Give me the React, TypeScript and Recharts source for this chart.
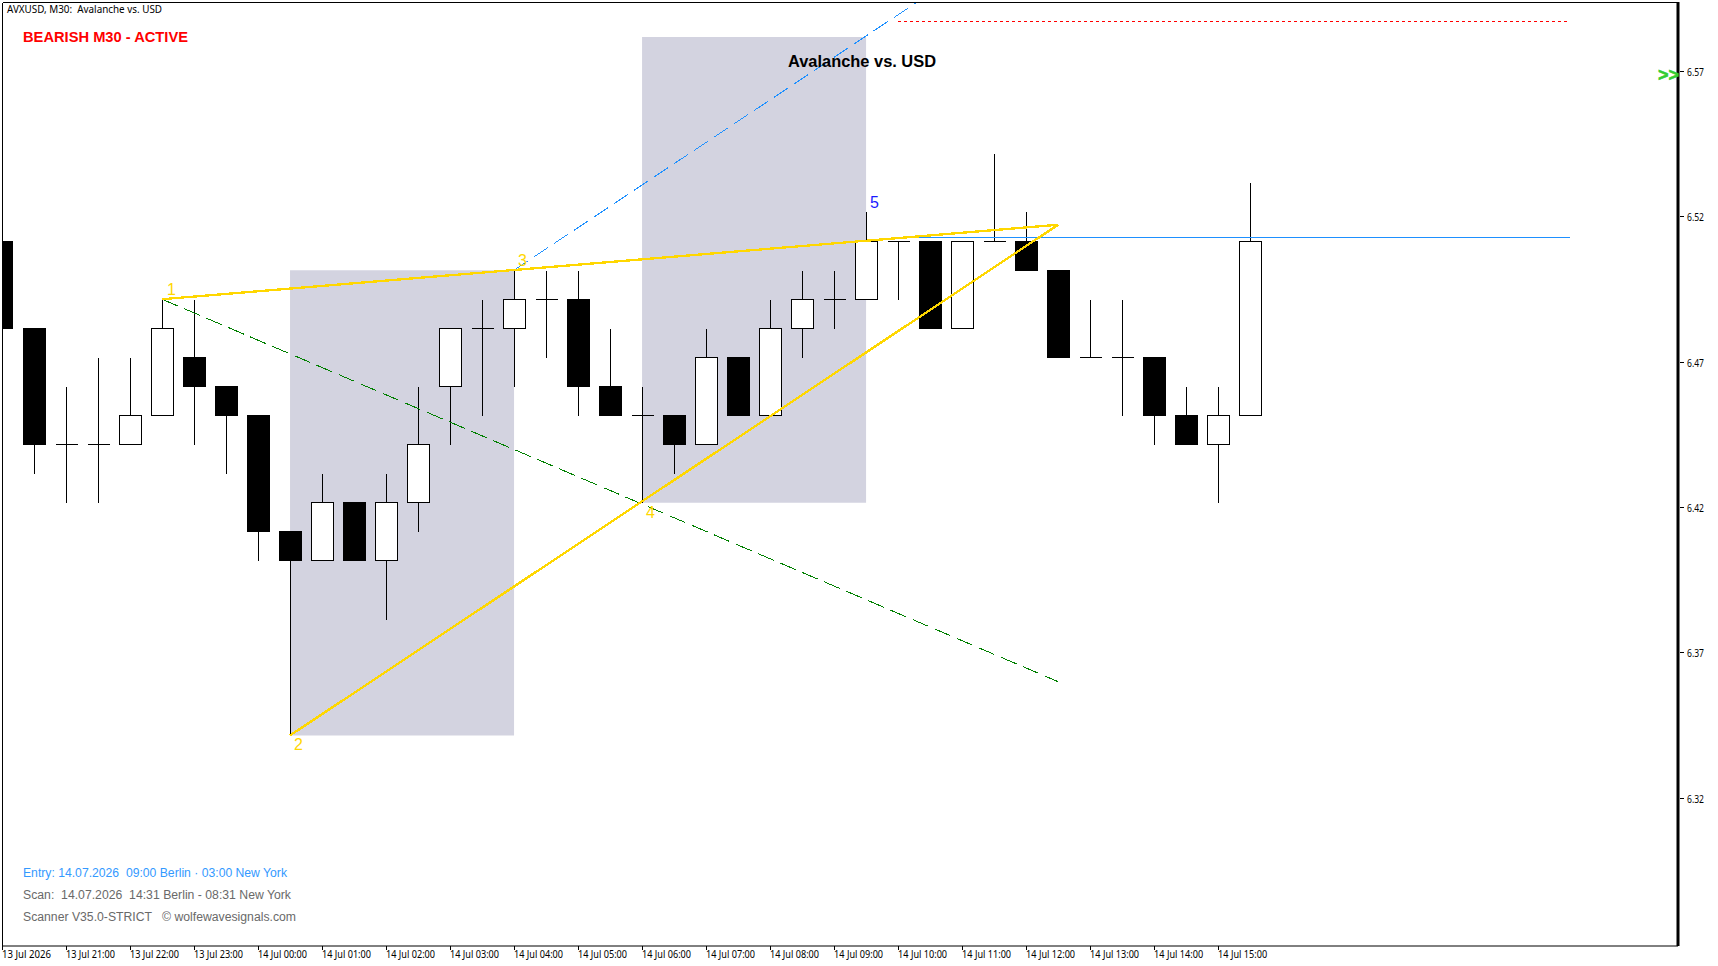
import React from 'react';
import { ComposedChart, Bar, XAxis, YAxis, ReferenceArea, ReferenceLine, ReferenceDot } from 'recharts';

const opens = [6.51,6.48,6.44,6.44,6.44,6.45,6.47,6.46,6.45,6.41,6.40,6.42,6.40,6.42,6.46,6.48,6.48,6.49,6.49,6.46,6.45,6.45,6.44,6.47,6.45,6.48,6.49,6.49,6.51,6.51,6.48,6.51,6.51,6.50,6.47,6.47,6.47,6.45,6.44,6.45];
const closes = [6.48,6.44,6.44,6.44,6.45,6.48,6.46,6.45,6.41,6.40,6.42,6.40,6.42,6.44,6.48,6.48,6.49,6.49,6.46,6.45,6.45,6.44,6.47,6.45,6.48,6.49,6.49,6.51,6.51,6.48,6.51,6.51,6.50,6.47,6.47,6.47,6.45,6.44,6.45,6.51];
const highs = [6.51,6.48,6.46,6.47,6.47,6.49,6.49,6.46,6.45,6.41,6.43,6.42,6.43,6.46,6.48,6.49,6.50,6.50,6.50,6.48,6.46,6.45,6.48,6.47,6.49,6.50,6.50,6.52,6.51,6.51,6.51,6.54,6.52,6.50,6.49,6.49,6.47,6.46,6.46,6.53];
const lows = [6.48,6.43,6.42,6.42,6.44,6.45,6.44,6.43,6.40,6.34,6.40,6.40,6.38,6.41,6.44,6.45,6.46,6.47,6.45,6.45,6.42,6.43,6.44,6.45,6.45,6.47,6.48,6.49,6.49,6.48,6.48,6.51,6.50,6.47,6.47,6.45,6.44,6.44,6.42,6.45];
const xTickIndexes = [0,2,4,6,8,10,12,14,16,18,20,22,24,26,28,30,32,34,36,38];
const xTickLabels = ['13 Jul 2026','13 Jul 21:00','13 Jul 22:00','13 Jul 23:00','14 Jul 00:00','14 Jul 01:00','14 Jul 02:00','14 Jul 03:00','14 Jul 04:00','14 Jul 05:00','14 Jul 06:00','14 Jul 07:00','14 Jul 08:00','14 Jul 09:00','14 Jul 10:00','14 Jul 11:00','14 Jul 12:00','14 Jul 13:00','14 Jul 14:00','14 Jul 15:00'];
const yTicks = [6.5684,6.5184,6.4684,6.4184,6.3684,6.3184];

const wavePoints = [
  { label: '1', i: 5, price: 6.49, dx: 5, dy: -4, color: '#FFD700' },
  { label: '2', i: 9, price: 6.34, dx: 4, dy: 15, color: '#FFD700' },
  { label: '3', i: 16, price: 6.50, dx: 4, dy: -4, color: '#FFD700' },
  { label: '4', i: 20, price: 6.42, dx: 4, dy: 15, color: '#FFD700' },
  { label: '5', i: 27, price: 6.52, dx: 4, dy: -4, color: '#1A1AFF' },
];
const apex = { i: 33, price: 6.5156 };
const greenEnd = { i: 33, price: 6.3585 };
const blueEnd = { i: 28.9, price: 6.5944 };
const redLevel = { from: 27.99, to: 48.9, price: 6.5854 };
const blueLevel = { from: 28, to: 49, price: 6.5111 };
const zones = [
  { x1: 9, x2: 16, y1: 6.34, y2: 6.50 },
  { x1: 20, x2: 27, y1: 6.42, y2: 6.5802 },
];

const candles = opens.map((o, i) => ({ i, o, c: closes[i], h: highs[i], l: lows[i] }));

const Candle = (props: any) => {
  const { x, y, width, height, payload } = props;
  const { o, c, h, l } = payload;
  const cx = Math.round(x + width / 2) - 0.5;
  const py = (p: number) => Math.floor(y + ((h - p) / (h - l)) * height) + 0.5;
  const top = py(Math.max(o, c));
  const bottom = py(Math.min(o, c));
  const left = cx - 11;
  return (
    <g shapeRendering="crispEdges">
      <line x1={cx} x2={cx} y1={py(h)} y2={py(l)} stroke="#000" strokeWidth={1} />
      {top === bottom ? (
        <line x1={left} x2={left + 22} y1={top} y2={top} stroke="#000" />
      ) : (
        <rect x={left} y={top} width={22} height={bottom - top} fill={c > o ? '#fff' : '#000'} stroke="#000" />
      )}
    </g>
  );
};

const tickFont = '"Noto Sans", sans-serif';
const XTick = (props: any) => {
  const { x, y, index } = props;
  return (
    <g>
      <line x1={x} x2={x} y1={y - 8} y2={y - 4} stroke="#000" shapeRendering="crispEdges" />
      <text x={x} y={y + 4} fontSize={10} fontFamily={tickFont} fill="#000" textLength={49} lengthAdjust="spacingAndGlyphs">{xTickLabels[index]}</text>
    </g>
  );
};
const YTick = (props: any) => {
  const { x, y, payload } = props;
  return (
    <g>
      <line x1={x - 6} x2={x - 2} y1={y} y2={y} stroke="#000" shapeRendering="crispEdges" />
      <text x={x + 1} y={y + 4.5} fontSize={10} fontFamily={tickFont} fill="#000" textLength={17} lengthAdjust="spacingAndGlyphs">{payload.value.toFixed(2)}</text>
    </g>
  );
};

const overlayTexts = [
  { text: 'AVXUSD, M30:  Avalanche vs. USD', x: 7, y: 13, w: 155, size: 10.5, weight: 400, color: '#000', font: tickFont, outline: 0 },
  { text: 'BEARISH M30 - ACTIVE', x: 23, y: 42, w: 165, size: 15, weight: 700, color: '#FF0000', font: '"Liberation Sans", sans-serif', outline: 0 },
  { text: 'Avalanche vs. USD', x: 788, y: 67, w: 148, size: 16, weight: 700, color: '#000', font: '"Liberation Sans", sans-serif', outline: 0 },
  { text: 'Entry: 14.07.2026  09:00 Berlin · 03:00 New York', x: 23, y: 877, w: 264, size: 12, weight: 400, color: '#3399FF', font: '"Liberation Sans", sans-serif', outline: 0 },
  { text: 'Scan:  14.07.2026  14:31 Berlin - 08:31 New York', x: 23, y: 899, w: 268, size: 12, weight: 400, color: '#696969', font: '"Liberation Sans", sans-serif', outline: 0 },
  { text: 'Scanner V35.0-STRICT   © wolfewavesignals.com', x: 23, y: 921, w: 273, size: 12, weight: 400, color: '#696969', font: '"Liberation Sans", sans-serif', outline: 0 },
  { text: '>>', x: 1658, y: 81, w: 21, size: 19, weight: 700, color: '#32CD32', font: '"Liberation Sans", sans-serif', outline: 0.6 },
];

export default function App() {
  return (
    <div style={{ position: 'absolute', left: 0, top: 0, width: 1718, height: 966, background: '#fff', overflow: 'hidden' }}>
      <ComposedChart
        width={1718}
        height={966}
        data={candles}
        margin={{ top: 2, left: 2, right: 0, bottom: 0 }}
      >
        <XAxis
          dataKey="i"
          type="number"
          domain={[0, 52.37]}
          allowDataOverflow
          ticks={xTickIndexes}
          interval={0}
          height={20}
          axisLine={{ stroke: '#000', strokeWidth: 1 }}
          tickLine={false}
          tick={<XTick />}
        />
        <YAxis
          orientation="right"
          type="number"
          domain={[6.2676, 6.5922]}
          allowDataOverflow
          ticks={yTicks}
          interval={0}
          width={40}
          axisLine={{ stroke: '#000', strokeWidth: 3 }}
          tickLine={false}
          tick={<YTick />}
        />
        {zones.map((z, k) => (
          <ReferenceArea key={k} x1={z.x1} x2={z.x2} y1={z.y1} y2={z.y2} fill="#D3D3E0" fillOpacity={1} stroke="none" ifOverflow="visible" />
        ))}
        <Bar dataKey={(d: any) => [d.l, d.h]} barSize={23} isAnimationActive={false} shape={<Candle />} />
        <ReferenceLine segment={[{ x: wavePoints[0].i, y: wavePoints[0].price }, { x: greenEnd.i, y: greenEnd.price }]} stroke="#008000" strokeDasharray="17 7" shapeRendering="crispEdges" ifOverflow="visible" />
        <ReferenceLine segment={[{ x: wavePoints[2].i, y: wavePoints[2].price }, { x: blueEnd.i, y: blueEnd.price }]} stroke="#1E90FF" strokeDasharray="17 7" shapeRendering="crispEdges" ifOverflow="visible" />
        <ReferenceLine segment={[{ x: redLevel.from, y: redLevel.price }, { x: redLevel.to, y: redLevel.price }]} stroke="#FF0000" strokeDasharray="3 3" shapeRendering="crispEdges" ifOverflow="visible" />
        <ReferenceLine segment={[{ x: blueLevel.from, y: blueLevel.price }, { x: blueLevel.to, y: blueLevel.price }]} stroke="#1E90FF" shapeRendering="crispEdges" ifOverflow="visible" />
        <ReferenceLine segment={[{ x: wavePoints[0].i, y: wavePoints[0].price }, { x: apex.i, y: apex.price }]} stroke="#FFD700" strokeWidth={2.3} shapeRendering="crispEdges" ifOverflow="visible" />
        <ReferenceLine segment={[{ x: wavePoints[1].i, y: wavePoints[1].price }, { x: apex.i, y: apex.price }]} stroke="#FFD700" strokeWidth={2.3} shapeRendering="crispEdges" ifOverflow="visible" />
        {wavePoints.map((p) => (
          <ReferenceDot
            key={p.label}
            x={p.i}
            y={p.price}
            ifOverflow="visible"
            shape={(s: any) => (
              <text x={s.cx + p.dx} y={s.cy + p.dy} fontSize={16} fontFamily='"Liberation Sans", sans-serif' fill={p.color}>{p.label}</text>
            )}
          />
        ))}
      </ComposedChart>
      <svg width={1718} height={966} style={{ position: 'absolute', left: 0, top: 0, pointerEvents: 'none' }}>
        <rect x={0} y={0} width={1718} height={2} fill="#fff" />
        <line x1={2.5} x2={1678} y1={2.5} y2={2.5} stroke="#000" shapeRendering="crispEdges" />
        <line x1={2.5} x2={2.5} y1={2.5} y2={946} stroke="#000" shapeRendering="crispEdges" />
        {overlayTexts.map((t) => (
          <text key={t.text} x={t.x} y={t.y} fontSize={t.size} fontWeight={t.weight} fontFamily={t.font} fill={t.color} stroke={t.outline ? t.color : 'none'} strokeWidth={t.outline} textLength={t.w} lengthAdjust="spacingAndGlyphs" style={{ whiteSpace: 'pre' }}>{t.text}</text>
        ))}
      </svg>
    </div>
  );
}
